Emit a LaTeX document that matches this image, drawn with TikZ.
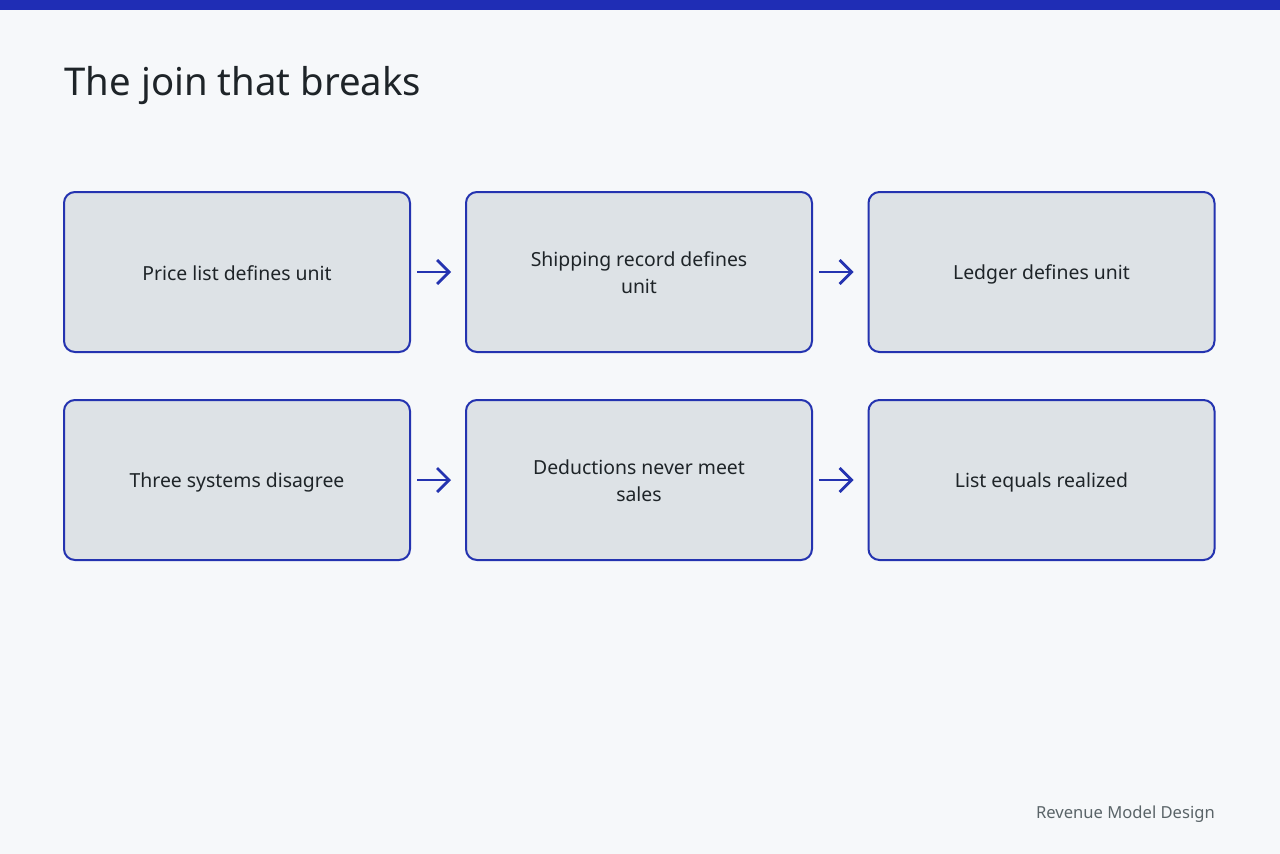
\documentclass[tikz,border=0pt]{standalone}
\usepackage{fontspec}
\setmainfont{Noto Sans}
\usetikzlibrary{arrows.meta}
\definecolor{bg}{HTML}{F6F8FA}
\definecolor{bar}{HTML}{1F2DB5}
\definecolor{boxfill}{HTML}{DDE2E6}
\definecolor{boxline}{HTML}{2433B0}
\definecolor{txt}{HTML}{1E2428}
\definecolor{foot}{HTML}{5A6468}
\newcommand{\ls}{\rule[-3pt]{0pt}{22pt}}
\tikzset{
  stepbox/.style={draw=boxline, line width=2pt, fill=boxfill, rounded corners=11pt,
    minimum width=346pt, minimum height=160pt, align=center,
    inner sep=0pt, font=\fontsize{19.4}{26.5}\selectfont, text=txt},
  flow/.style={draw=boxline, line width=2.8pt, -{Straight Barb[length=12pt,width=24pt,line width=2.8pt]}}
}
\begin{document}
\begin{tikzpicture}[x=1pt,y=-1pt]
\fill[bg] (0,0) rectangle (1280,854);
\useasboundingbox (0,0) rectangle (1280,854);
\fill[bar] (0,0) rectangle (1280,10);
\node[anchor=base west, inner sep=0pt, text=txt, font=\fontsize{38.3}{46}\selectfont] (title) at (64.5,95) {The join that breaks};
\node[stepbox] (a) at (237,272) {\ls Price list defines unit};
\node[stepbox] (b) at (639,272) {\ls Shipping record defines\\\ls unit};
\node[stepbox] (c) at (1041.5,272) {\ls Ledger defines unit};
\node[stepbox] (d) at (237,480) {\ls Three systems disagree};
\node[stepbox] (e) at (639,480) {\ls Deductions never meet\\\ls sales};
\node[stepbox] (f) at (1041.5,480) {\ls List equals realized};
\draw[flow] ([xshift=6pt]a.east) -- ([xshift=-14pt]b.west);
\draw[flow] ([xshift=6pt]b.east) -- ([xshift=-14pt]c.west);
\draw[flow] ([xshift=6pt]d.east) -- ([xshift=-14pt]e.west);
\draw[flow] ([xshift=6pt]e.east) -- ([xshift=-14pt]f.west);
\node[anchor=base east, inner sep=0pt, text=foot, font=\fontsize{16.6}{20}\selectfont] (footer) at (1215,818) {Revenue Model Design};
\end{tikzpicture}
\end{document}
